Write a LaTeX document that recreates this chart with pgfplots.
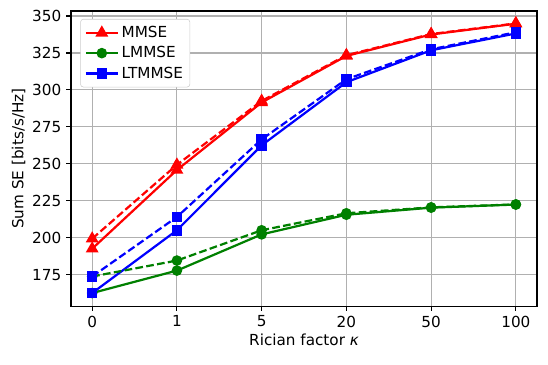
\documentclass[border=0pt]{standalone}
\usepackage{pgfplots}
\pgfplotsset{compat=1.18}
\usepackage{fontspec}
\setmainfont{DejaVu Sans}

\definecolor{mplgreen}{rgb}{0,0.5,0}

\begin{document}
\begin{tikzpicture}
\begin{axis}[
    scale only axis, width=335.5bp, height=212.4bp,
    xmin=-0.25, xmax=5.25, ymin=153.7, ymax=353.4,
    xtick={0,1,2,3,4,5}, xticklabels={0,1,5,20,50,100},
    ytick={175,200,225,250,275,300,325,350},
    /pgf/number format/assume math mode=true,
    grid=major, major grid style={draw=black!31, line width=0.8pt},
    axis line style={line width=0.8pt},
    tick style={black, line width=0.8pt}, tick align=outside, major tick length=3.5pt,
    xtick pos=bottom, ytick pos=left,
    tick label style={font=\fontsize{11}{13}\selectfont},
    label style={font=\fontsize{11}{13}\selectfont},
    xlabel={Rician factor {\itshape κ}}, ylabel={Sum SE [bits/s/Hz]},
    xlabel style={yshift=2pt}, ylabel style={yshift=-2pt},
    every axis plot/.append style={line width=1.6pt},
    legend style={at={(0.02,0.973)}, anchor=north west, draw=black!20, rounded corners=2pt,
        font=\fontsize{11}{13}\selectfont, row sep=1pt, inner sep=3pt},
    legend cell align=left,
    legend image code/.code={
        \draw[mark repeat=2,mark phase=2] plot coordinates {(0bp,0bp) (11.5bp,0bp) (23bp,0bp)};},
]
\addplot[red, mark=triangle*, mark size=3.8pt, mark options={solid}] coordinates {(0,192.5) (1,245.8) (2,291.5) (3,323) (4,337.5) (5,344.8)};
\addlegendentry{MMSE}
\addplot[mplgreen, mark=*, mark size=3pt, mark options={solid}] coordinates {(0,162.5) (1,177.7) (2,202.2) (3,215.5) (4,220.3) (5,222.4)};
\addlegendentry{LMMSE}
\addplot[blue, mark=square*, mark size=3pt, mark options={solid}] coordinates {(0,162.5) (1,205) (2,262.5) (3,305.2) (4,326.8) (5,338.2)};
\addlegendentry{LTMMSE}
\addplot[red, dash pattern=on 5.55pt off 2.4pt, mark=triangle*, mark size=3.8pt, mark options={solid}, forget plot] coordinates {(0,199.3) (1,249.3) (2,292.5) (3,323.5) (4,337.8) (5,345)};
\addplot[mplgreen, dash pattern=on 5.55pt off 2.4pt, mark=*, mark size=3pt, mark options={solid}, forget plot] coordinates {(0,173.7) (1,184.5) (2,205) (3,216.5) (4,220.5) (5,222.5)};
\addplot[blue, dash pattern=on 5.55pt off 2.4pt, mark=square*, mark size=3pt, mark options={solid}, forget plot] coordinates {(0,173.7) (1,214) (2,266.5) (3,307.2) (4,327.5) (5,339)};
\end{axis}
\path (current axis.south west) ++(-51.1bp,-41.76bp) (current axis.north east) ++(7.9bp,7.92bp);
\end{tikzpicture}
\end{document}
